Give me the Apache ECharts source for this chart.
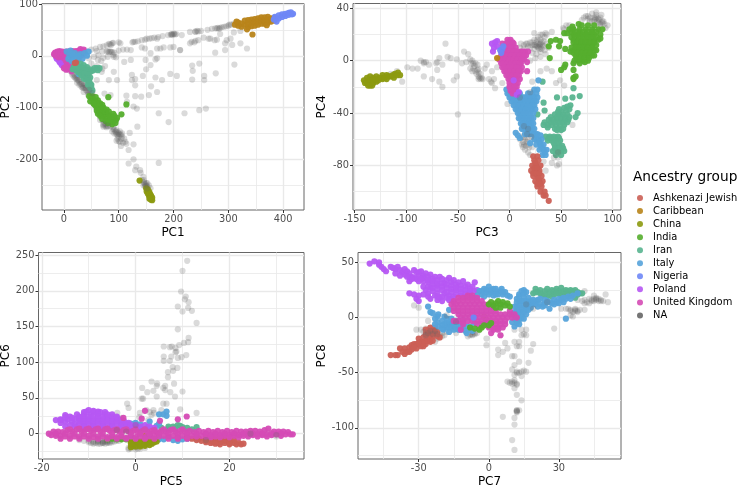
<!DOCTYPE html>
<html><head><meta charset="utf-8">
<style>html,body{margin:0;padding:0;background:#fff}#c{width:738px;height:487px}</style>
<script src="https://cdn.jsdelivr.net/npm/echarts@6/dist/echarts.min.js"></script>
</head><body><div id="c"></div>
<script>
const groupNames=['Ashkenazi Jewish','Caribbean','China','India','Iran','Italy','Nigeria','Poland','United Kingdom','NA'];
const groupColors=['#CB5F55','#B8841A','#8C9A10','#55AE2D','#58B48F','#56A3DA','#6F87F6','#B657F3','#D54BB5','#666666'];

// ---- PC1 / PC2 ----
const p1_na=[[63,1],[91,-2],[110,-12],[122,-8],[149,-8],[167,-7],[158,5],[170,-5],[150,-26],[158,-18],[234,-19],[247,-15],[235,-29],[234,-46],[256,-39],[256,-47],[277,-34],[276,6],[311,-17],[124,-37],[130,-45],[124,-47],[130,-57],[144,-39],[167,-42],[179,-47],[194,-35],[206,-39],[159,-59],[170,-70],[155,-76],[141,-79],[130,-78],[114,-77],[115,-89],[127,-98],[133,-102],[173,-111],[191,-128],[220,-111],[247,-105],[259,-102],[134,-137],[120,-149],[127,-171],[118,-182],[127,-200],[118,-208],[173,-207],[130,-221],[139,-221],[145,-234],[91,-31],[97,-47],[82,-47],[85,-76],[74,-73],[69,-31],[60,-47],[264,33],[279,31],[294,24],[304,33],[307,21],[294,11],[322,24],[334,14],[230,24],[240,29],[212,11],
[40,10],[50,12],[58,14],[66,17],[72,18],[78,20],[84,22],[88,24],[100,26],[103,24],[127,27],[135,28],[142,30],[151,33],[156,33],[165,35],[172,36],[180,38],[190,40],[195,41],[197,42],[200,42],[203,41],[215,40],[230,46],[240,47],[243,48],[250,48],[262,50],[270,52],[279,53],[285,54],[292,56],[300,58],[305,60],[310,62],
[60,9],[70,8],[78,8],[82,7],[86,8],[92,6],[100,10],[108,12],[115,12],[122,11],[142,16],[148,14],[170,14],[176,14],[182,16],[194,16],[200,17],[212,11],[233,27],[238,26],[245,30],[255,35],[267,33],[275,30],[285,42],[297,30],[310,45],[322,48],[340,60],[355,64],
[45,-5],[55,-2],[62,-8],[68,-10],[72,-4],[80,-2],[90,2],[95,-3],[60,-20],[70,-25],[75,-20],[50,-15],
[8,-26],[12,-30],[16,-34],[20,-38],[24,-42],[28,-46],[32,-50],[36,-54],[40,-58],[44,-62],[48,-66],[22,-44],[26,-48],[30,-54],[34,-58],[38,-62],[42,-68],[46,-72],[18,-40],[24,-52],[28,-56],[34,-62],[40,-66],[36,-70],[44,-76],[52,-90],[58,-100],[62,-110],[66,-118],[70,-125],[72,-134],[76,-136],[74,-130],[66,-124],[85,-136],[90,-138],[92,-142],[96,-144],[98,-148],[100,-150],[102,-146],[104,-152],[106,-156],[110,-160],[96,-152],[100,-156],[88,-146],[92,-150],[98,-160],[102,-166],[108,-168],[114,-170],[104,-174],[132,-214],[140,-226],[142,-240],[146,-244],[148,-248],[152,-246],[150,-252],[155,-250],[145,-250],[158,-256],
[196,41],[198,40],[201,43],[205,42],[276,53],[281,54],[283,52],[288,55],[296,57],[302,60],[160,34],[170,33],[148,31],[130,27],[125,26],[90,25],[86,21],[82,23],[240,46],[245,47],[84,8],[88,7],[80,9],[15,-36],[20,-42],[24,-46],[28,-50],[32,-54],[32,-60],[36,-62],[40,-62],[44,-70],[25,-38],[38,-56],[48,-74],[50,-78],[76,-132],[72,-137],[80,-136],[78,-138],[90,-142],[94,-146],[98,-152],[102,-152],[106,-150],[95,-148],[105,-160],[100,-165],[96,-164],[112,-166],[146,-240],[148,-252],[150,-246],[152,-252]];
const p1_naOver=[[146,-246],[150,-250],[152,-256],[80,-135],[72,-132],[52,-72],[46,-66]];
const p1_ashkenazi=[[20,-14],[22,-13]];
const p1_caribbean=[[312,60],[318,58],[318,64],[324,56],[324,62],[330,68],[330,60],[336,55],[336,62],[336,69],[342,57],[342,64],[342,70],[348,58],[348,65],[348,71],[354,60],[354,66],[354,72],[360,62],[360,68],[360,74],[366,62],[366,68],[366,74],[372,64],[372,70],[372,75],[378,66],[378,72],[384,68],[384,73],[344,41],[370,59],[334,51],[315,66]];
const p1_china=[[138,-241],[150,-256],[151,-262],[153,-258],[153,-266],[155,-262],[155,-270],[157,-266],[157,-274],[159,-270],[159,-278],[161,-274],[161,-279],[156,-276]];
const p1_india=[[50,-82],[54,-85],[58,-88],[56,-94],[62,-92],[60,-100],[66,-97],[64,-106],[70,-102],[68,-112],[74,-106],[72,-116],[78,-110],[76,-120],[82,-115],[82,-124],[88,-120],[95,-124],[90,-128],[86,-128],[81,-80],[114,-94],[105,-113],[58,-96],[72,-108],[66,-104],
[46,-78],[52,-78],[58,-80],[62,-86],[48,-88],[54,-92],[66,-92],[70,-95],[60,-106],[62,-112],[72,-100],[78,-104],[82,-108],[66,-116],[70,-122],[76,-126],[84,-118],[90,-112],[88,-132],[80,-130],[94,-130],[97,-120],[92,-116]];
const p1_iran=[[18,-22],[24,-18],[30,-15],[36,-18],[42,-22],[48,-26],[54,-28],[60,-24],[65,-24],[22,-28],[28,-26],[34,-28],[40,-30],[46,-33],[30,-33],[36,-38],[42,-40],[48,-42],[40,-46],[46,-50],[50,-56],[48,-62],[52,-67],
[16,-26],[20,-20],[26,-22],[32,-22],[38,-24],[44,-28],[50,-30],[56,-24],[62,-28],[26,-32],[32,-38],[38,-34],[44,-37],[36,-44],[42,-46],[44,-44],[48,-54],[44,-56],[50,-62],[46,-48]];
const p1_italy=[[5,8],[12,10],[10,0],[16,-3],[22,-2],[28,-4],[20,5],[30,3],[38,5],[45,8],[42,0],[34,-6],[8,-6],[14,-10],[25,-10],[27,-35],[15,4],[26,0]];
const p1_nigeria=[[383,70],[385,75],[392,72],[392,78],[398,75],[398,80],[404,77],[404,81],[410,79],[410,83],[416,80],[414,84],[418,81],[388,66]];
const p1_poland=[[-14,-3],[-10,-5],[-6,-8],[-3,-12],[0,-15],[3,-18],[-8,-12],[-4,-18],[0,-20],[-13,-6],[-9,-9],[-6,-14],[-2,-7]];
const p1_uk=[[-15,5],[-12,8],[-8,9],[-3,8],[-14,0],[-9,3],[-4,4],[2,5],[8,8],[14,7],[20,6],[26,8],[33,10],[34,5],[28,3],[-10,-3],[-5,-2],[-1,-4],[12,3],[18,2],[0,-24],[4,-27],[8,-26],[12,-22],[6,-12],[14,-30],[30,13],[-16,2],
[-18,3],[-16,6],[-13,5],[-10,6],[-6,6],[-1,6],[4,8],[10,6],[16,9],[22,9],[28,10],[36,12],[-12,-1],[-7,1],[-2,1],[6,2],[2,-2],[24,5],[30,7],[36,8],[32,1],[3,-9],[6,-16],[9,-20],[12,-14],[15,-26],[3,-22]];

// ---- PC3 / PC4 ----
const p2_na=[[-62,13],[-60,3],[-65,-20],[-50,-41],[-44,7],[-40,5],[-86,0],[-83,-2],[-81,-1],[-78,-3],[-70,-1],[-68,2],[-65,-3],[-70,-7],[-83,-12],[-75,-14],[-68,-16],[-54,-15],[-51,-12],[-57,2],[-51,1],[-38,1],[-35,-2],[-31,-3],[-38,-6],[-33,-8],[-28,-14],[-26,-14],[-18,-16],[-17,-8],[-12,-5],[-22,-3],[-14,-21],[-17,-17],[-7,-17],[-99,-5],[-94,-6],[-89,-6],[-104,-16],[-109,-8],[-115,-10],[-36,0],[-34,-4],[-30,-6],[-32,-10],[-30,-12],[-36,-8],[-28,-10],[-24,-6],[-42,-1],[-46,-2],[-29,-13],[-27,-13],[-20,-14],[-15,-14],
[10,10],[14,9],[18,11],[22,12],[24,9],[26,14],[28,10],[30,16],[32,12],[34,18],[36,13],[38,10],[26,5],[22,6],[30,7],[34,8],[28,18],[32,20],[36,20],[24,16],[20,14],[16,13],[30,13],[27,11],[33,15],[25,2],[20,0],[30,3],[35,5],[24,21],[30,20],[35,21],[41,22],[17,13],[14,12],[11,13],[26,11],[29,12],[31,9],
[53,24],[55,27],[52,25],[58,27],[60,25],[70,31],[72,33],[74,34],[76,32],[80,36],[82,33],[84,35],[86,32],[88,33],[90,30],[92,28],[95,27],[93,25],[88,28],[85,30],[80,30],[78,33],[84,37],[89,35],[91,30],[83,32],[86,29],[76,34],
[10,-60],[13,-62],[16,-65],[12,-64],[15,-68],[18,-70],[20,-72],[22,-66],[14,-58],[18,-60],[20,-56],[12,-52],[16,-54],[46,-80],[48,-79],[41,-78],[33,-77],[35,-84],[61,-49],[45,-71],[53,-19],[45,-17],[22,-16],[30,-8],[36,-6],[41,-8],[49,-15],[-2,-33],[11,-38],[44,-67],[47,-74],[13,-66],[19,-66],
[20,10],[25,12],[28,13],[31,14],[33,11],[22,14],[27,16],[30,11],[29,9],[24,12],[82,31],[87,31],[84,33],[90,29],[78,30],[88,26],[-35,-6],[-33,-2],[-31,-7],[-30,-14],[-37,-2],[-83,-1],[-71,-2],[-30,-9],[12,-58],[15,-60],[17,-62],[14,-64],[18,-64]];
const p2_naOver=[[10,-28],[18,-52],[17,-56],[21,-58],[14,-50],[47,-70],[20,-24],[43,-74]];
const p2_ashkenazi=[[23,-73],[27,-73],[24,-76],[28,-76],[22,-80],[26,-80],[30,-80],[21,-84],[25,-84],[29,-84],[23,-88],[27,-88],[31,-88],[25,-92],[29,-92],[32,-92],[27,-96],[31,-96],[30,-100],[34,-100],[33,-103],[35,-103],[38,-107],[25,-78],[24,-82],[27,-82],[23,-86],[26,-86],[29,-86],[28,-90],[27,-94],[30,-94]];
const p2_caribbean=[[-12,2]];
const p2_china=[[-141,-15],[-138,-13],[-138,-17],[-135,-12],[-135,-15],[-135,-19],[-132,-13],[-132,-17],[-129,-12],[-129,-16],[-126,-13],[-123,-11],[-123,-14],[-119,-11],[-119,-14],[-115,-12],[-111,-10],[-108,-9],[-106,-11],[-112,-13],
[-137,-15],[-133,-15],[-130,-14],[-127,-15],[-124,-13],[-121,-13],[-117,-12],[-113,-11],[-140,-17],[-137,-19],[-133,-19],[-109,-11]];
const p2_india=[[67,28],[53,21],[56,21],[62,24],[68,24],[74,24],[80,24],[86,24],[62,20],[66,20],[70,20],[74,20],[78,20],[82,20],[90,24],[62,16],[66,16],[70,16],[74,16],[78,16],[82,16],[86,16],[64,12],[68,12],[72,12],[76,12],[80,12],[84,12],[62,8],[66,8],[70,8],[74,8],[78,8],[82,8],[64,4],[68,4],[72,4],[76,4],[80,4],[63,0],[67,0],[71,0],[76,0],[62,-2],[68,-2],[38,11],[40,15],[45,16],[49,15],[48,11],[54,9],[59,7],[39,2],[50,-7],[53,-5],[54,-3],[62,-7],[62,-13],[64,-12],[62,-14],
[60,22],[64,22],[68,22],[72,22],[76,22],[80,22],[84,22],[88,20],[60,18],[64,18],[68,18],[72,18],[76,18],[80,18],[84,18],[88,17],[62,14],[66,14],[70,14],[74,14],[78,14],[82,14],[60,10],[64,10],[68,10],[72,10],[76,10],[80,10],[84,8],[62,6],[66,6],[70,6],[74,6],[78,6],[82,4],[65,2],[69,2],[73,2],[77,2],[73,-1],[58,24],[76,27],[82,27],[70,27],[61,26]];
const p2_iran=[[32,-16],[62,-21],[46,-28],[54,-29],[61,-28],[68,-27],[33,-32],[34,-38],[48,-37],[53,-36],[56,-35],[59,-34],[66,-40],[64,-43],[27,-41],[44,-41],[48,-41],[52,-41],[56,-41],[38,-45],[42,-45],[46,-45],[50,-45],[54,-45],[57,-45],[33,-49],[37,-49],[41,-49],[45,-49],[49,-49],[53,-49],[44,-52],[48,-52],[52,-52],[35,-58],[39,-58],[43,-58],[47,-58],[37,-61],[41,-61],[45,-61],[49,-61],[44,-65],[48,-65],[51,-65],[42,-69],[46,-69],[50,-69],[53,-69],[45,-72],[50,-72],
[34,-47],[40,-47],[44,-47],[48,-47],[52,-47],[56,-47],[40,-43],[46,-43],[50,-43],[54,-43],[58,-43],[37,-51],[46,-53],[50,-53],[40,-59],[44,-59],[48,-59],[43,-63],[47,-63],[44,-67],[48,-67],[52,-67],[38,-59],[50,-39],[55,-38],[58,-37],[47,-39]];
const p2_italy=[[-3,-22],[24,-22],[27,-22],[28,-15],[-2,-25],[2,-25],[6,-25],[10,-25],[18,-25],[22,-25],[26,-25],[0,-28],[4,-28],[8,-28],[12,-28],[16,-28],[20,-28],[24,-28],[27,-28],[2,-31],[6,-31],[10,-31],[14,-31],[18,-31],[22,-31],[26,-31],[4,-34],[8,-34],[12,-34],[16,-34],[20,-34],[24,-34],[6,-37],[10,-37],[14,-37],[18,-37],[22,-37],[25,-37],[8,-40],[12,-40],[16,-40],[20,-40],[23,-40],[9,-44],[13,-44],[17,-44],[21,-44],[11,-48],[15,-48],[19,-48],[23,-48],[12,-52],[16,-52],[20,-52],[24,-52],[15,-56],[19,-56],[23,-56],[27,-56],[6,-55],[8,-57],[10,-59],[24,-60],[28,-60],[31,-60],[26,-64],[30,-64],[33,-64],[29,-68],[33,-68],[36,-68],[32,-72],[35,-72],[20,-63],
[0,-25],[4,-25],[8,-25],[2,-28],[6,-28],[10,-28],[14,-28],[18,-28],[22,-28],[4,-31],[8,-31],[12,-31],[16,-31],[20,-31],[24,-31],[6,-34],[10,-34],[14,-34],[18,-34],[22,-34],[8,-37],[12,-37],[16,-37],[20,-37],[10,-40],[14,-40],[18,-40],[11,-44],[15,-44],[19,-44],[23,-44],[13,-48],[17,-48],[21,-48],[14,-52],[18,-52],[22,-52],[17,-56],[21,-56],[25,-56],[26,-60],[29,-62],[31,-66],[34,-70],[30,-57]];
const p2_nigeria=[[-9,8],[-7,9],[-8,6],[-6,11]];
const p2_poland=[[-17,13],[-14,14],[-12,11],[-15,10],[-16,7],[4,-15],[9,-24],[7,-26],[-12,15]];
const p2_uk=[[-2,16],[1,16],[-7,13],[-3,13],[1,13],[4,13],[-5,10],[-1,10],[3,10],[6,10],[-6,7],[-2,7],[2,7],[6,7],[11,7],[15,7],[18,7],[-8,4],[-4,4],[0,4],[4,4],[8,4],[12,4],[16,4],[-10,1],[-6,1],[-2,1],[2,1],[6,1],[10,1],[14,1],[-8,-2],[-4,-2],[0,-2],[4,-2],[8,-2],[11,-2],[17,-1],[-7,-5],[-3,-5],[1,-5],[5,-5],[9,-5],[12,-5],[-5,-8],[-1,-8],[3,-8],[7,-8],[11,-8],[17,-8],[-3,-11],[1,-11],[5,-11],[9,-11],[-1,-14],[3,-14],[7,-14],[10,-14],[0,-17],[4,-17],[8,-17],[0,-20],[3,-20],[7,-20],[1,-23],[6,-23],[3,-25],
[-1,14],[3,14],[-3,10],[1,10],[-4,7],[0,7],[4,7],[8,7],[13,7],[-6,4],[-2,4],[2,4],[6,4],[10,4],[14,4],[-8,1],[-4,1],[0,1],[4,1],[8,1],[12,1],[-6,-2],[-2,-2],[2,-2],[6,-2],[10,-2],[-5,-5],[-1,-5],[3,-5],[7,-5],[-3,-8],[1,-8],[5,-8],[9,-8],[-1,-11],[3,-11],[7,-11],[1,-14],[5,-14],[2,-17],[6,-17],[1,-20],[5,-20],[4,-23]];

// ---- PC5 / PC6 ----
const p3_na=[[11,242],[10,228],[9.7,199],[10.7,192],[10.5,188],[11.3,184],[9,178],[11.2,176],[10,171],[12,172],[13,155],[9,146],[11.3,134],[11.2,128],[10.3,127],[9.3,124],[6,122],[7.3,121],[7.7,122],[8.5,120],[8.7,115],[8.5,114],[6,108],[6,102],[7.6,108],[7.3,102],[9,106],[9.8,107],[10.8,110],[7.9,93],[8,88],[8.9,92],[6.9,86],[6.9,79],[8.2,70],[3.4,73],[4.6,70],[4.5,67],[1.4,64],[2.5,58],[3.8,60],[5.9,64],[6.3,67],[6.3,61],[7.4,58],[10,59],[4.5,52],[8.4,52],[1.3,49],[1.6,49],[-1.8,42],[-1.5,36],[5.9,42],[6.6,42],[9.5,34],[13,29],[-3.9,29],[-3,22],[2.3,33],[3.8,33],[3.9,29],[3.4,26],[0.9,29],[0.8,23],[5.5,33],[2.7,19],[3,30],
[-12,-9],[-10,-12],[-9.5,-13],[-9,-11],[-8,-12],[-7.5,-14],[-7,-12],[-6.5,-11],[-6,-13],[-5.5,-11],[-5,-12],[-4,-10],[-8.5,-13],[-7,-13],[-6,-12],[-8,-10],[-7,-10],[-6,-10],[-1.5,-20],[-1,-21],[0,-22],[1,-21],[2,-20],[-1,-17],[0,-19],[15,-5],[15.5,-8],[30,-4],[24,2],[28,4],[6,4],
[-11,-10],[-9,-12],[-8,-14],[-7,-13],[-6.5,-14],[-5.5,-13],[-5,-10],[-4.5,-11],[-8,-11],[-7,-11],[-6,-11],[-10,-10],[-3.5,-10],[-9,-14],[0.5,-21],[-1.5,-22]];
const p3_naOver=[[-4,5],[-2,3],[0,12],[15,-9],[30,-2],[24.5,0]];
const p3_ashkenazi=[[12,-7],[13.5,-7],[15,-7],[16.5,-7],[18,-7],[14,-10],[15,-10],[16,-10],[17,-10],[18,-10],[19,-10],[20,-10],[16,-13],[17.5,-13],[19,-13],[20,-13],[21,-13],[22,-13],[23,-14],[21.5,-15],
[13,-9],[15,-9],[17,-8],[19,-8],[21,-9],[15,-12],[16.5,-12],[18,-12],[20,-12],[18,-15],[20,-15],[17,-14],[22.5,-15],[11,-6]];
const p3_caribbean=[[2,-3]];
const p3_china=[[0,-10],[1,-10],[2,-10],[3,-10],[4,-10],[4.5,-11],[-0.5,-14],[0.5,-14],[1.5,-14],[2.5,-14],[3.5,-14],[0,-18],[1,-18],[2,-17],[-1,-19],[-1,-12],[1,-12],[2,-12],[3,-12],[4,-12],[1,-16],[2,-15],[3,-16],[0,-12],[-0.5,-17],[-1,-14]];
const p3_india=[[0,8],[1,8],[2,6],[-1,6],[-3,-8],[-4,-8],[-5,-7],[-2,-8],[-1,-7],[-6,-8]];
const p3_iran=[[7,10],[8,10],[9,12],[9.5,11],[10,9],[11,8],[13,9],[7,7],[5.5,8],[8.5,8],[12,6]];
const p3_italy=[[5.9,27],[6.6,31],[6.6,25],[5,27],[-2,12],[-1,14],[0,15],[1,13],[3,17],[5,14],[4.5,11],[2.5,9],[-1,8],[0.5,8],[5,-8],[6,-8],[8,-9],[9,-10],[10,-8],[11,-7],[13,-7],[2,-7],[-1,-4]];
const p3_nigeria=[[3,-2]];
const p3_poland=[[-10,33],[-11,30],[-9,30],[-8,31],[-7.5,30],[-6.5,30],[-12.5,27],[-11,27],[-9.5,27],[-8,27],[-6.5,27],[-5,27],[-15,26],[-14,24],[-17,19],[-16,19],[-15,17],[-13.6,17],[-16,15],[-13,20],[-12,20],[-11,20],[-10,20],[-9,20],[-8,20],[-7,20],[-6,20],[-5,20],[-4,20],[-13,13],[-12,13],[-11,13],[-10,13],[-9,13],[-8,13],[-7,13],[-6,13],[-5,13],[-4,13],[-3,13],[-2,13],[-12,7],[-11,7],[-10,7],[-9,7],[-8,7],[-7,7],[-6,7],[-5,7],[-4,7],[-3,7],[-2,7],[-1,7],[0,7],[-12,24],[-7,24],[-4,22],[-2.5,18],[-1.5,15],[2,12],[4,8],
[-12,22],[-11,24],[-10,24],[-9,24],[-8,24],[-6,24],[-5,24],[-13.5,22],[-11,17],[-10,17],[-9,17],[-8,17],[-7,17],[-6,17],[-5,17],[-4,17],[-3,16],[-12,17],[-13,10],[-11,10],[-9,10],[-7,10],[-5,10],[-3,10],[-1,10],[-14,12],[-15,10],[-16,20],[-14.5,20],[-15,23],[-10.5,31],[-9,32],[-8,29],[-6,27],[-4,24],[-3,20],[-2,14],[-1,12],[0,12],[1,10],[3,10]];
const p3_uk=[[-18.5,0],[-17.5,3],[-16.5,3],[-15.5,2],[-14.5,5],[-13.5,3],[-12.5,6],[-11.5,3],[-10.5,6],[-9.5,4],[-8.5,6],[-7.5,3],[-6.5,6],[-5.5,4],[-4.5,5],[-3.5,3],[-2.5,5],[-1.5,3],[-0.5,4],[0.5,2],[1.5,4],[2.5,3],[3.5,4],[4.5,2],[5.5,4],[6.5,3],[7.5,5],[8.5,3],[9.5,4],[10.5,3],[11.5,4],[12.5,2],[13.5,4],[14.5,2],[15.5,4],[16.5,2],[17.5,4],[18.5,2],[19.5,4],[20.5,2],[21.5,4],[22.5,3],[23.5,3],[24.5,4],[25.5,4],[26.5,3],[27.5,5],[28.3,7],[29.5,3],[30.5,3],[31.5,3],[32.5,2],[33.5,-1],
[-18,-2],[-17,-3],[-16,-3],[-15,-4],[-14,-3],[-13,-4],[-12,-4],[-11,-4],[-10,-3],[-9,-5],[-8,-4],[-7,-4],[-6,-5],[-5,-4],[-4,-5],[-3,-4],[-2,-6],[-1,-4],[0,-5],[1,-4],[2,-5],[3,-4],[4,-3],[5,-4],[6,-3],[7,-4],[8,-3],[9,-5],[10,-3],[11,-4],[12,-3],[13,-4],[14,-3],[15,-4],[16,-2],[17,-4],[18,-2],[19,-3],[20,-2],[21,-3],[22,-2],[23,-3],[24,-1],[25,-2],[26,-1],[27,-2],[28,-1],[29,-2],[30,-1],[31,-3],[32,-1],[33,-1],
[2,32],[9,20],[10.9,24],[1.3,21],[-2.6,22],[5.2,18],
[-17,0],[-15,0],[-13,0],[-11,0],[-9,0],[-7,0],[-5,0],[-3,0],[-1,0],[1,0],[3,0],[5,0],[7,0],[9,0],[11,0],[13,0],[15,0],[17,0],[19,0],[21,0],[23,0],[25,0],[27,0],[29,0],[31,0],
[-16,-7],[-14,-7],[-12,-7],[-10,-7],[-8,-7],[-6,-7],[-4,-7],[-2,-7],[0,-7],[2,-7],[4,-7],[7,-7],[9,-7],[11,-7],
[-14,6],[-12,7],[-10,7],[-8,7],[-6,7],[-4,6],[-2,6],[0,6],[2,6],[4,5],[6,6],[8,6],[10,6],
[16,-5],[18,-5],[20,-5],[22,-5],[24,-4],[26,-4],[28,-4]];

// ---- PC7 / PC8 ----
const p4_na=[[41,24],[45,20],[50,21],[48,16],[51,14],[46,16],[49,15],[44,15],[41,16],[38,16],[36,19],[41,13],[43,13],[34,8],[33,8],[36,5],[38,5],[39,7],[35,2],[41,7],[31,8],[28,-10],[36,1],[47,17],[46,18],[45,15],[43,17],[37,6],[35,6],[37,8],[-32,11],[-30,9],[-26,-3],[-31,-11],[-29,-11],[-27,-10],[-26,-11],[-25,-10],[-23,-22],[-22,-19],[-20,-14],[-19,-16],[-18,-13],[-14,-14],[-9,-17],[-8,-16],[-7,-16],[-5,-14],[-4,-10],[-1,-19],[-1,-25],[-6,-14],[-7,-13],[-21,-16],[-20,-17],[5,-16],[4,-29],[4,-34],[6,-31],[8,-28],[7,-23],[11,-22],[11,-35],[10,-35],[13,-26],[12,-26],[13,-22],[19,-24],[18,-30],[14,-16],[16,-11],[16,-16],[14,-11],[11,-11],[15,-15],[11,-43],[10,-47],[13,-40],[17,-41],[12,-49],[13,-50],[16,-49],[15,-48],[14,-53],[11,-52],[8,-58],[9,-59],[10,-60],[12,-60],[11,-57],[11,-64],[12,-61],[12,-70],[14,-75],[6,-90],[12,-84],[12,-85],[12,-85],[13,-84],[11,-91],[11,-97],[10,-111],[11,-120],
[46,17],[47,15],[45,17],[48,15],[44,16],[40,15],[42,14],[35,7],[37,7],[38,6],[12,-50],[14,-49],[10,-58],[11,-59],[12,-84],[12,-86],[-8,-15],[-6,-15],[-7,-15]];
const p4_naOver=[[-28,-13],[-26,-14],[-24,-15],[-27,-16],[-25,-12],[-22,-15],[-14,-4],[-18,2],[16,12],[19,8],[25,14],[-23,-12]];
const p4_ashkenazi=[[-42,-34],[-40,-34],[-39,-34],[-36,-33],[-38,-28],[-36,-28],[-34,-27],[-35,-31],[-33,-25],[-33,-29],[-31,-28],[-31,-24],[-29,-26],[-29,-22],[-30,-19],[-28,-18],[-27,-21],[-27,-24],[-25,-19],[-25,-15],[-26,-12],[-24,-11],[-23,-9],[-25,-9],[-27,-15],[-23,-14],[-22,-17],[-21,-18],[-24,-17],[-27,-11],
[-34,-31],[-32,-24],[-30,-24],[-28,-23],[-26,-21],[-26,-17],[-24,-14],[-30,-23],[-32,-27],[-28,-26],[-25,-22],[-22,-13],[-24,-21],[-37,-31]];
const p4_caribbean=[[-2,1]];
const p4_china=[[-1,-2]];
const p4_india=[[0,12],[1,14],[2,11],[3,13],[4,15],[5,12],[6,14],[7,11],[8,13],[9,10],[5,9],[3,9],[-8,-9],[-6,-10],[-4,-11],[-3,-9],[-2,-7],[0,-7],[1,-5]];
const p4_iran=[[19,22],[20,26],[21,23],[22,25],[23,20],[24,24],[25,26],[26,23],[27,25],[28,21],[29,26],[30,24],[31,27],[32,22],[33,25],[34,24],[35,25],[36,22],[37,25],[38,21],[39,22],[40,22],[37,18],[25,19],[27,19],[31,20],[35,20],
[20,23],[22,22],[24,21],[26,21],[28,24],[30,22],[32,24],[34,21],[36,24],[38,23],[33,21],[29,22]];
const p4_italy=[[-4,24],[-2,26],[0,28],[2,26],[3,24],[-1,23],[1,23],[-3,21],[5,24],[5.5,26],[7,23],[8,20],[4,21],[-5,20],[-2,19],[2,20],[6,21],[9,19],[12,17],[13,21],[14,24],[15,25],[16,23],[13,19],[15,19],[17,18],[12,14],[14,15],[16,15],[18,15],[11,10],[13,11],[15,11],[17,11],[19,13],[21,16],[12,6],[14,7],[16,7],[18,9],[10,3],[12,2],[14,3],[16,3],[11,-1],[13,-2],[15,-1],[11,-8],[13,-6],[10,-4],[20,15],[22,17],[22,12],[23,10],[25,15],[26,8],[27,13],[28,16],[30,13],[31,16],[32,14],[33,17],[34,19],[36,20],[35,17],[38,22],[33,-1],[-26,10],[-25,5],[-24,4],[-22,1],[-23,-1],[-21.6,3],[-17,7],[-19,1],[-18,-1],[-20,-7],[-18,-9],[-16,-5],[-14,-7],[-15,-11],[-13,-11],[-12,-8],[-9.5,-14],[-21.6,-8],[-19.5,-11],[-17,-13],[-16,-1],[-11,-2],[-20,-3],[-23,-6],[-17,-6],[-14,-3],[-8,-8],[-6,-5],
[-22,-4],[-20,-10],[-18,-5],[-16,-9],[-14,-10],[-12,-5],[-10,-8],[-10,-12],[-7,-12],[-15,-7],[-19,-6],[-17,-9],[-12,-11],[-8,-11],[13,15],[15,15],[15,22],[17,14],[14,9],[16,10],[18,12],[12,10],[20,12],[21,10],[24,13],[24,16],[26,14],[29,14],[30,17],[32,18],[13,5],[15,5],[11,5],[12,-3],[14,0],[12,-5],[19,16],[17,7],[24,11],[28,12],[-1,25],[1,25],[3,26],[-3,24],[0,21],[3,21],[6,23]];
const p4_nigeria=[[-6.5,0]];
const p4_poland=[[-51,49],[-49,51],[-47,48],[-46,46],[-45,44],[-44,42],[-42,46],[-41,45],[-40,44],[-39,46],[-38,43],[-37,41],[-36,39],[-35,42],[-34,40],[-33,37],[-32,43],[-31,41],[-30,38],[-29,42],[-28,38],[-27,40],[-26,37],[-25,39],[-24,35],[-23,37],[-22,34],[-21,37],[-20,35],[-19,31],[-18,34],[-17,36],[-16,32],[-15,34],[-14,30],[-13,32],[-12,29],[-11,33],[-10,28],[-9,30],[-8,26],[-7,28],[-6,32],[-6,24],[-5,25],[-34,33],[-32,36],[-30,33],[-28,33],[-26,32],[-24,30],[-22,29],[-20,28],[-18,27],[-16,26],[-14,25],[-12,23],[-10,22],[-8,21],[-25,27],[-26,22],[-28,21],[-30,20],[-31,17],[-30,15],[-24,24],[-23,20],[-22,16],[-21,18],[-20,15],[-19,22],[-17,20],[-16,17],[-15,19],[-34,22],[-32,21],[-47,50],[-38,38],[-26,19],[-25,17],[-22,22],
[-40,40],[-36,44],[-34,37],[-30,41],[-28,36],[-26,34],[-24,33],[-22,31],[-20,31],[-18,30],[-16,29],[-14,27],[-12,26],[-10,25],[-8,24],[-28,28],[-27,25],[-26,28],[-24,27],[-22,26],[-20,25],[-18,23],[-16,23],[-14,21],[-12,20],[-10,19],[-22,19],[-20,19],[-18,18],[-15,14],[-17,16],[-31,35],[-33,35],[-29,35],[-35,37]];
const p4_uk=[[-9,20],[-7,20],[-13,18],[-11,18],[-9,18],[-7,18],[-5,18],[-15,15],[-13,15],[-11,15],[-9,15],[-7,15],[-5,15],[-3,15],[-16,12],[-14,12],[-12,12],[-10,12],[-8,12],[-6,12],[-4,12],[-2,12],[0,12],[-15,9],[-13,9],[-11,9],[-9,9],[-7,9],[-5,9],[-3,9],[-1,9],[1,9],[-15,6],[-13,6],[-11,6],[-9,6],[-7,6],[-5,6],[-3,6],[-1,6],[1,6],[3,6],[9,6],[-13,3],[-11,3],[-9,3],[-7,3],[-5,3],[-3,3],[-1,3],[1,3],[3,3],[5,3],[7,3],[9,3],[11,3],[-12,0],[-10,0],[-8,0],[-6,0],[-4,0],[-2,0],[0,0],[2,0],[4,0],[6,0],[8,0],[10,0],[12,0],[-15,-3],[-13,-3],[-11,-3],[-9,-3],[-7,-3],[-5,-3],[-3,-3],[-1,-3],[1,-3],[3,-3],[5,-3],[7,-3],[-11,-6],[-5,-6],[-3,-6],[-1,-6],[1,-6],[3,-6],[5,-6],[7,-6],[0,-9],[2,-9],[4,-9],[6,-9],[2,-11],[4,-11],[-12,-11],[1,-14],[5,-16]];

const panelSeries=[
 [['NA',p1_na],['China',p1_china],['India',p1_india],['Caribbean',p1_caribbean],['Nigeria',p1_nigeria],['Poland',p1_poland],['United Kingdom',p1_uk],['Italy',p1_italy],['Iran',p1_iran],['Ashkenazi Jewish',p1_ashkenazi],['NA',p1_naOver]],
 [['NA',p2_na],['China',p2_china],['Iran',p2_iran],['India',p2_india],['Italy',p2_italy],['Ashkenazi Jewish',p2_ashkenazi],['United Kingdom',p2_uk],['Poland',p2_poland],['Caribbean',p2_caribbean],['Nigeria',p2_nigeria],['NA',p2_naOver]],
 [['NA',p3_na],['Caribbean',p3_caribbean],['Nigeria',p3_nigeria],['India',p3_india],['Iran',p3_iran],['Italy',p3_italy],['Ashkenazi Jewish',p3_ashkenazi],['Poland',p3_poland],['China',p3_china],['United Kingdom',p3_uk],['NA',p3_naOver]],
 [['NA',p4_na],['Caribbean',p4_caribbean],['China',p4_china],['Ashkenazi Jewish',p4_ashkenazi],['Poland',p4_poland],['Iran',p4_iran],['Italy',p4_italy],['United Kingdom',p4_uk],['India',p4_india],['Nigeria',p4_nigeria],['NA',p4_naOver]]
];

const xNames=['PC1','PC3','PC5','PC7'];
const yNames=['PC2','PC4','PC6','PC8'];
const xRanges=[[-40,438],[-151.6,108],[-20.7,35.9],[-56,56.6]];
const yRanges=[[-297.8,100.9],[-114,43.7],[-35.5,253.6],[-128.2,59]];
const xMajor=[[0,100,200,300,400],[-150,-100,-50,0,50,100],[-20,0,20],[-30,0,30]];
const xMinor=[[50,150,250,350],[-125,-75,-25,25,75],[-10,10,30],[-45,-15,15,45]];
const yMajor=[[-200,-100,0,100],[-80,-40,0,40],[0,50,100,150,200,250],[-100,-50,0,50]];
const yMinor=[[-250,-150,-50,50],[-100,-60,-20,20],[-25,25,75,125,175,225],[-125,-75,-25,25]];

const grids=[
 {left:42,top:3.5,width:262,height:206.5},
 {left:353,top:3.5,width:268,height:206.5},
 {left:38.5,top:252.5,width:265.5,height:206.5},
 {left:358,top:252.5,width:263,height:206.5}
];
const yGap=[30,25,26.5,30];
const colorOf=n=>groupColors[groupNames.indexOf(n)];
const gridLine=(w)=>({show:true,lineStyle:{color:'#e9e9e9',width:w}});
function axis(pos,i,major,minor,range,name,gap){
 const base={type:'value',gridIndex:i,position:pos,min:range[0],max:range[1],scale:true,
   axisLine:{show:false,onZero:false},minorTick:{show:false},minorSplitLine:{show:false}};
 const main=Object.assign({},base,{
   name:name,nameLocation:'middle',nameGap:gap,nameMoveOverlap:false,
   nameTextStyle:{fontSize:12,color:'#000',fontFamily:'DejaVu Sans'},
   splitLine:gridLine(1.4),
   axisTick:{show:true,length:3,lineStyle:{color:'#333',width:1},customValues:major},
   axisLabel:{show:true,margin:4,fontSize:9.8,color:'#4d4d4d',fontFamily:'DejaVu Sans',customValues:major,showMinLabel:true,showMaxLabel:true,hideOverlap:false}
 });
 const sub=Object.assign({},base,{
   splitLine:gridLine(0.8),
   axisTick:{show:false,customValues:minor},
   axisLabel:{show:false}
 });
 return [sub,main];
}
const xAxes=[],yAxes=[],series=[];
grids.forEach((g,i)=>{
 xAxes.push(...axis('bottom',i,xMajor[i],xMinor[i],xRanges[i],xNames[i],17));
 yAxes.push(...axis('left',i,yMajor[i],yMinor[i],yRanges[i],yNames[i],yGap[i]));
 panelSeries[i].forEach(([n,d])=>{
  series.push({type:'scatter',name:n,xAxisIndex:i*2+1,yAxisIndex:i*2+1,data:d,symbol:'circle',symbolSize:6.2,
   silent:true,animation:false,itemStyle:{color:colorOf(n),opacity:n==='NA'?0.24:0.95,borderWidth:0}});
 });
});
const chart=echarts.init(document.getElementById('c'),null,{renderer:'canvas'});
chart.setOption({
 animation:false,backgroundColor:'#fff',
 textStyle:{fontFamily:'DejaVu Sans'},
 title:{text:'Ancestry group',left:633,top:170,padding:0,textStyle:{fontSize:13.7,fontWeight:'normal',color:'#000',fontFamily:'DejaVu Sans'}},
 legend:{orient:'vertical',left:637,top:193,padding:0,itemWidth:6,itemHeight:6,itemGap:3.05,icon:'circle',selectedMode:false,
   data:groupNames,itemStyle:{opacity:0.9},textStyle:{fontSize:9.9,color:'#000',fontFamily:'DejaVu Sans',padding:[0,0,0,5]}},
 grid:grids.map(g=>Object.assign({show:true,borderColor:'#666',borderWidth:1,backgroundColor:'transparent',containLabel:false,outerBoundsMode:'none'},g)),
 xAxis:xAxes,yAxis:yAxes,series:series
});
</script></body></html>
